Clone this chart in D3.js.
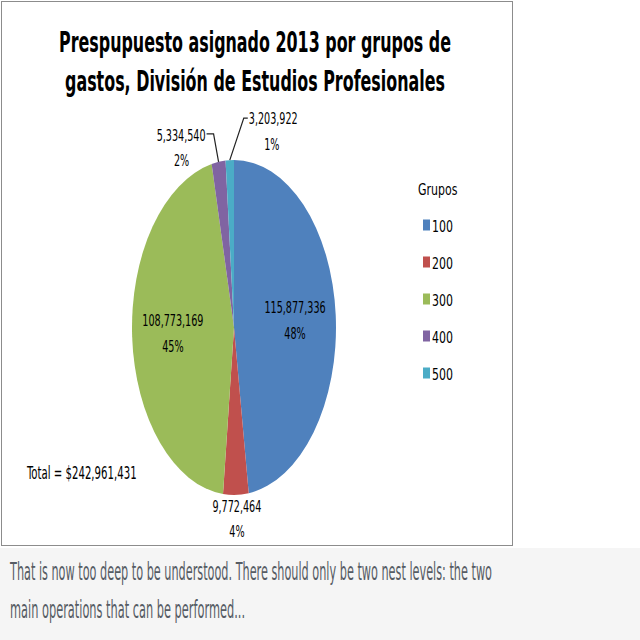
<!DOCTYPE html>
<html>
<head>
  <meta charset="utf-8">
  <script src="https://cdn.jsdelivr.net/npm/d3@7"></script>
  <style>
    body { margin: 0; background: #fff; }
    text { font-family: 'Liberation Sans Narrow', 'Arial Narrow', 'DejaVu Sans Condensed', sans-serif; }
  </style>
</head>
<body>
<script>
  // chart data
  var groups = ["100", "200", "300", "400", "500"];
  var amounts = [115877336, 9772464, 108773169, 5334540, 3203922];
  var colors = ["#4F81BD", "#C0504D", "#9BBB59", "#8064A2", "#4BACC6"];
  var titleLines = ["Prespupuesto asignado 2013 por grupos de",
                    "gastos, División de Estudios Profesionales"];
  var legendTitle = "Grupos";
  var noteLines = ["That is now too deep to be understood. There should only be two nest levels: the two",
                   "main operations that can be performed..."];

  var width = 640, height = 640;
  var cx = 234, cy = 327.5, rx = 102, ry = 167.5;
  var sy = 1.55;   // the picture is stretched vertically

  var fmt = d3.format(","), pct = d3.format(".0%");
  var total = d3.sum(amounts);

  var svg = d3.select("body").append("svg")
      .attr("width", width)
      .attr("height", height);

  function label(g, x, y, str, size, anchor, k) {
    return g.append("text")
      .attr("transform", "translate(" + x + "," + y + ") scale(1," + (k || sy) + ")")
      .attr("text-anchor", anchor)
      .attr("font-size", size)
      .text(str);
  }

  /*
    chart frame and the note underneath
  */
  svg.append("rect").attr("x", 0).attr("y", 548).attr("width", width).attr("height", height - 548)
    .attr("fill", "#f5f5f5");
  svg.append("rect").attr("x", 1.5).attr("y", 1.5).attr("width", 511).attr("height", 544)
    .attr("fill", "#fff").attr("stroke", "#8c8c8c");

  titleLines.forEach(function(t, i) {
    label(svg, 255, 52 + i * 39, t, 24, "middle", 1.2)
      .attr("font-weight", "bold")
      .attr("fill", "#000")
      .attr("textLength", i === 0 ? 392 : 380)
      .attr("lengthAdjust", "spacingAndGlyphs");
  });

  noteLines.forEach(function(t, i) {
    label(svg, 10, 580 + i * 38, t, 17, "start", 1.45)
      .attr("fill", "#565c64")
      .attr("textLength", i === 0 ? 482 : 235)
      .attr("lengthAdjust", "spacingAndGlyphs");
  });

  /*
    pie (elliptical, as in the picture)
  */
  var data = groups.map(function(g, i) { return {group: g, amount: amounts[i], color: colors[i]}; });
  var pie = d3.pie().sort(null).value(function(d) { return d.amount; });
  var arcs = pie(data);
  var arc = d3.arc().innerRadius(0).outerRadius(rx);

  svg.append("g")
      .attr("transform", "translate(" + cx + "," + cy + ") scale(1," + (ry / rx) + ")")
    .selectAll("path")
    .data(arcs)
    .enter().append("path")
      .attr("d", arc)
      .attr("fill", function(d) { return d.data.color; });

  function rim(a, k) {
    return [cx + Math.sin(a) * rx * k, cy - Math.cos(a) * ry * k];
  }
  function mid(d) { return (d.startAngle + d.endAngle) / 2; }

  var labels = svg.append("g").attr("fill", "#000");
  var lsize = 10.7;

  // inside labels: 100 and 300
  [0, 2].forEach(function(i) {
    var c = rim(mid(arcs[i]), 0.6);
    label(labels, c[0], c[1] - 7, fmt(amounts[i]), lsize, "middle");
    label(labels, c[0], c[1] + 19, pct(amounts[i] / total), lsize, "middle");
  });

  // 200 under the pie
  var p = rim(mid(arcs[1]), 1);
  label(labels, p[0] + 1, p[1] + 17, fmt(amounts[1]), lsize, "middle");
  label(labels, p[0] + 1, p[1] + 42, pct(amounts[1] / total), lsize, "middle");

  // 400 with leader line
  p = rim(mid(arcs[3]), 1);
  svg.append("path")
    .attr("d", d3.line()([p, [p[0] - 5, p[1] - 28], [p[0] - 12, p[1] - 28]]))
    .attr("fill", "none").attr("stroke", "#222").attr("stroke-width", 1.2);
  label(labels, p[0] - 13, p[1] - 21, fmt(amounts[3]), lsize, "end");
  label(labels, p[0] - 37, p[1] + 4, pct(amounts[3] / total), lsize, "middle");

  // 500 with leader line
  p = rim(mid(arcs[4]), 1);
  svg.append("path")
    .attr("d", d3.line()([p, [p[0] + 14, p[1] - 42], [p[0] + 18, p[1] - 42]]))
    .attr("fill", "none").attr("stroke", "#222").attr("stroke-width", 1.2);
  label(labels, p[0] + 19, p[1] - 36, fmt(amounts[4]), lsize, "start");
  label(labels, p[0] + 42, p[1] - 10, pct(amounts[4] / total), lsize, "middle");

  // total
  label(labels, 27, 479, "Total = $" + fmt(total), 11.3, "start", 1.58);

  /*
    legend
  */
  var legend = svg.append("g").attr("transform", "translate(423,0)");
  label(legend, -5, 195, legendTitle, 12.2, "start", 1.35);
  var item = legend.selectAll("g.item")
    .data(data)
    .enter().append("g")
      .attr("class", "item")
      .attr("transform", function(d, i) { return "translate(0," + (225 + i * 37) + ")"; });
  item.append("rect")
    .attr("x", 0).attr("y", -5.5).attr("width", 7).attr("height", 11)
    .attr("fill", function(d) { return d.color; });
  item.each(function(d) {
    label(d3.select(this), 9, 7, d.group, 12.2, "start", 1.35);
  });
</script>
</body>
</html>
